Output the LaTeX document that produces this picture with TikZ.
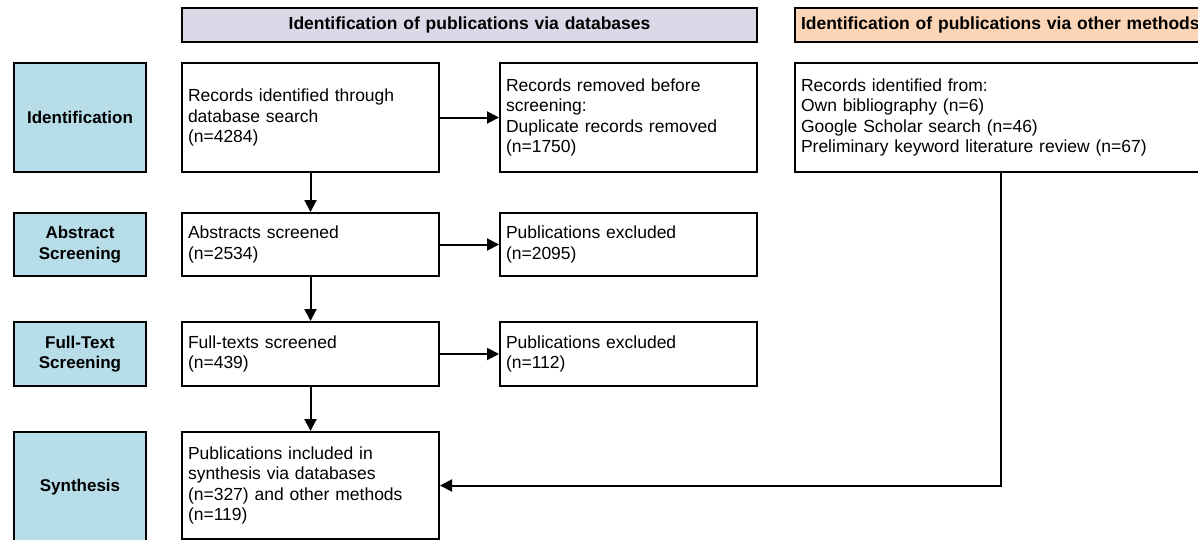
\documentclass[tikz,border=0pt]{standalone}
\usepackage{fontspec}
\setmainfont{Liberation Sans}
\usepackage{xcolor}
\usepackage{tikz}
\usetikzlibrary{arrows.meta}
\usetikzlibrary{shapes}

\definecolor{phaseblue}{HTML}{B7DDE8}
\definecolor{dblilac}{HTML}{DDD8E7}
\definecolor{otherpeach}{HTML}{FBD5B5}

\tikzset{
    stagebox/.style = {draw = black, line width = 2pt, fill = white, anchor = north west,
        align = left, inner xsep = 6pt, inner ysep = 0pt,
        font = \fontsize{17.5}{20.5}\selectfont},
    headbox/.style = {stagebox, minimum height = 34pt, font = \bfseries\fontsize{17.5}{20.5}\selectfont},
    phasebox/.style = {draw = black, line width = 2pt, fill = phaseblue, anchor = north west,
        align = center, inner sep = 0pt, minimum width = 132pt,
        font = \bfseries\fontsize{17}{20.5}\selectfont},
    flow/.style = {line width = 2pt, -{Triangle[length = 12pt, width = 12pt]}}
}

\begin{document}
\begin{tikzpicture}[x = 1pt, y = -1pt]
        \useasboundingbox (0, 0) rectangle (1198, 539);
        \clip (0, 0) rectangle (1198, 539);

        \node[headbox, fill = dblilac, align = center, text width = 563pt] (dbhead) at (181, 7)
            {Identification of publications via databases};
        \node[headbox, fill = otherpeach, text width = 400pt] (otherhead) at (794, 7)
            {Identification of publications via other methods};

        \node[phasebox, minimum height = 109pt] (pident) at (13, 62) {Identification};
        \node[phasebox, minimum height = 63pt] (pabs) at (13, 212) {Abstract\\Screening};
        \node[phasebox, minimum height = 64pt] (pfull) at (13, 321) {Full-Text\\Screening};
        \node[phasebox, minimum height = 110pt] (psynth) at (13, 431) {Synthesis};

        \node[stagebox, text width = 245pt, minimum height = 109pt] (recs) at (181, 62)
            {Records identified through\\database search\\(n=4284)};
        \node[stagebox, text width = 245pt, minimum height = 109pt] (dups) at (499, 62)
            {Records removed before\\screening:\\Duplicate records removed\\(n=1750)};
        \node[stagebox, text width = 400pt, minimum height = 109pt] (other) at (794, 62)
            {Records identified from:\\Own bibliography (n=6)\\Google Scholar search (n=46)\\Preliminary keyword literature review (n=67)};

        \node[stagebox, text width = 245pt, minimum height = 63pt] (abs) at (181, 212)
            {Abstracts screened\\(n=2534)};
        \node[stagebox, text width = 245pt, minimum height = 63pt] (absout) at (499, 212)
            {Publications excluded\\(n=2095)};

        \node[stagebox, text width = 245pt, minimum height = 64pt] (full) at (181, 321)
            {Full-texts screened\\(n=439)};
        \node[stagebox, text width = 245pt, minimum height = 64pt] (fullout) at (499, 321)
            {Publications excluded\\(n=112)};

        \node[stagebox, text width = 245pt, minimum height = 107pt] (synth) at (181, 431)
            {Publications included in\\synthesis via databases\\(n=327) and other methods\\(n=119)};

        \draw[flow] (recs) -- (dups);
        \draw[flow] (abs) -- (absout);
        \draw[flow] (full) -- (fullout);
        \draw[flow] (recs) -- (abs);
        \draw[flow] (abs) -- (full);
        \draw[flow] (full) -- (synth);
        \draw[flow] (other.south) |- (synth.east);
    \end{tikzpicture}
\end{document}
